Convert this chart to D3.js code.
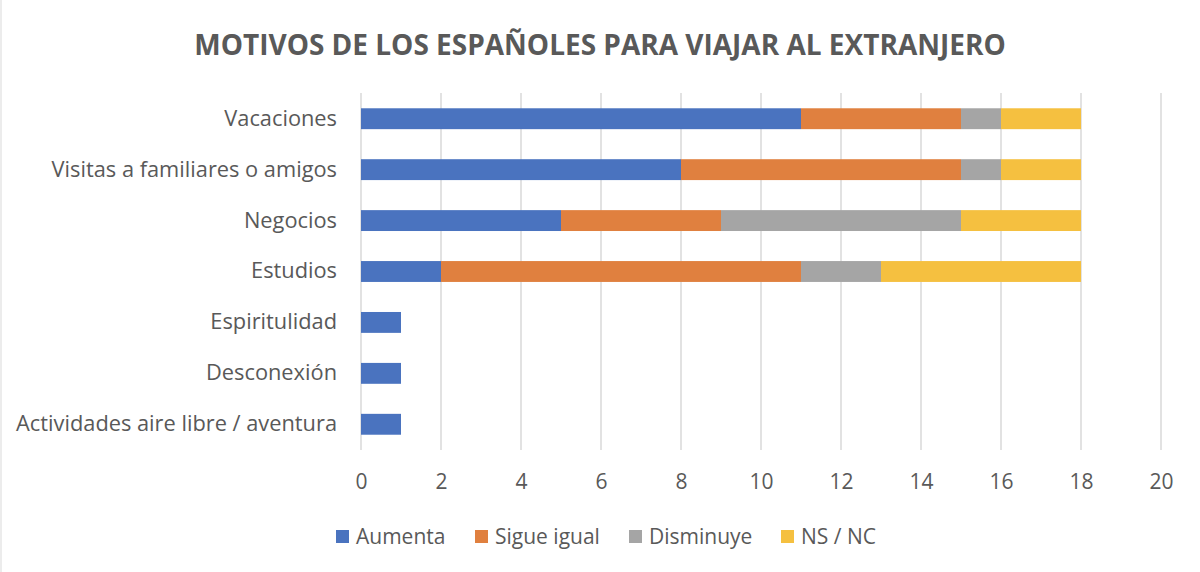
<!DOCTYPE html>
<html>
<head>
<meta charset="utf-8">
<script src="https://cdn.jsdelivr.net/npm/d3@7"></script>
<style>
  body { margin: 0; background: #fff; }
  svg { display: block; font-family: "Open Sans", sans-serif; }
</style>
</head>
<body>
<div id="chart"></div>
<script>
/*
 * Data
 *****************************/
const categories = ["Vacaciones", "Visitas a familiares o amigos", "Negocios", "Estudios",
  "Espiritulidad", "Desconexión", "Actividades aire libre / aventura"];
const series = ["Aumenta", "Sigue igual", "Disminuye", "NS / NC"];
const aumenta    = [11, 8, 5, 2, 1, 1, 1];
const sigueIgual = [4, 7, 4, 9, 0, 0, 0];
const disminuye  = [1, 1, 6, 2, 0, 0, 0];
const nsnc       = [2, 2, 3, 5, 0, 0, 0];
const xTicks = [0, 2, 4, 6, 8, 10, 12, 14, 16, 18, 20];
const colors = ["#4a73bf", "#e0803f", "#a5a5a5", "#f5c040"];

const width = 1200, height = 572;
const margin = {left: 361, right: 39, top: 93, bottom: 122};
const FONT = "'Open Sans', sans-serif";

const svg = d3.select("#chart").append("svg")
  .attr("width", width).attr("height", height);

// bordo sottile a sinistra
svg.append("line").attr("x1", 1).attr("x2", 1).attr("y1", 0).attr("y2", height)
  .attr("stroke", "#d9d9d9").attr("stroke-width", 1);

// titolo
svg.append("text")
  .attr("x", 600).attr("y", 55)
  .attr("text-anchor", "middle")
  .style("font-size", "28px").style("font-weight", "bold")
  .attr("fill", "#595959")
  .text("MOTIVOS DE LOS ESPAÑOLES PARA VIAJAR AL EXTRANJERO");

const rows = categories.map((c, i) => ({
  cat: c, "Aumenta": aumenta[i], "Sigue igual": sigueIgual[i],
  "Disminuye": disminuye[i], "NS / NC": nsnc[i]
}));

const stacked = d3.stack().keys(series)(rows);

const x = d3.scaleLinear().domain([0, 20]).range([margin.left, width - margin.right]);
const y = d3.scaleBand().domain(categories)
  .range([margin.top, height - margin.bottom]).paddingInner(0.59).paddingOuter(0.3);

// griglia verticale
svg.append("g").selectAll("line")
  .data(xTicks)
  .join("line")
  .attr("x1", d => x(d)).attr("x2", d => x(d))
  .attr("y1", margin.top).attr("y2", height - margin.bottom)
  .attr("stroke", "#d9d9d9").attr("stroke-width", 1.5);

// barre
svg.append("g").selectAll("g")
  .data(stacked)
  .join("g")
  .attr("fill", (d, i) => colors[i])
  .selectAll("rect")
  .data(d => d.filter(p => p[1] > p[0]))
  .join("rect")
  .attr("x", d => x(d[0]))
  .attr("y", d => y(d.data.cat))
  .attr("width", d => x(d[1]) - x(d[0]))
  .attr("height", y.bandwidth());

// asse x
const xAxis = svg.append("g")
  .attr("transform", `translate(0,${height - margin.bottom})`)
  .call(d3.axisBottom(x).tickValues(xTicks).tickSize(0).tickPadding(24))
  .attr("font-family", FONT);
xAxis.select(".domain").remove();
xAxis.selectAll("text").style("font-size", "21px").attr("fill", "#595959");

// asse y
const yAxis = svg.append("g")
  .attr("transform", `translate(${margin.left},0)`)
  .call(d3.axisLeft(y).tickSize(0).tickPadding(24))
  .attr("font-family", FONT);
yAxis.select(".domain").remove();
yAxis.selectAll("text").style("font-size", "21.8px").attr("fill", "#595959");

// legenda
const legendX = [336, 475, 629, 781];
const legend = svg.append("g").selectAll("g")
  .data(series)
  .join("g")
  .attr("transform", (d, i) => `translate(${legendX[i]},537)`);
legend.append("rect")
  .attr("x", 0).attr("y", -7).attr("width", 13).attr("height", 13)
  .attr("fill", (d, i) => colors[i]);
legend.append("text")
  .attr("x", 20).attr("y", 0).attr("dy", "0.35em")
  .style("font-size", "21px").attr("fill", "#595959")
  .text(d => d);
</script>
</body>
</html>
